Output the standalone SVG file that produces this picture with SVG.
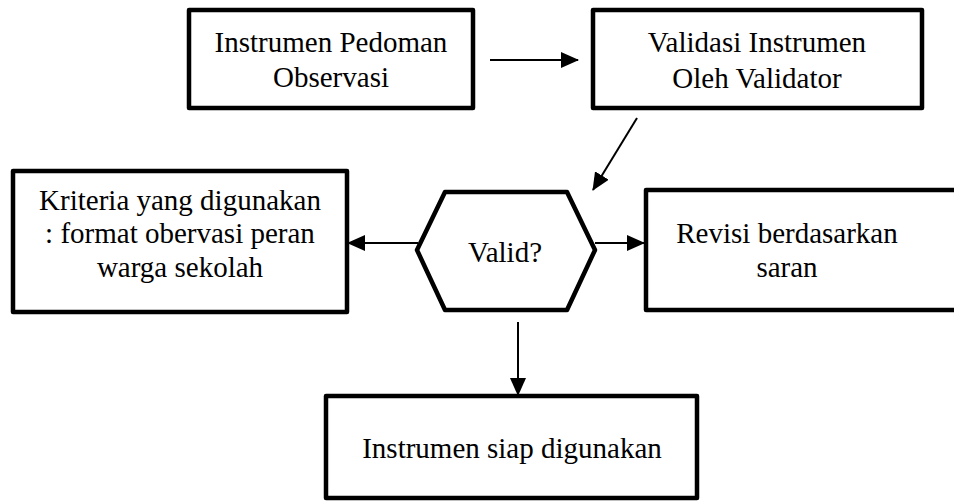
<svg xmlns="http://www.w3.org/2000/svg" width="954" height="501" viewBox="0 0 954 501">
<style>
.box{fill:#fff;stroke:#000;stroke-width:4.5;stroke-linejoin:round}
.t{font-family:'Liberation Serif','Times New Roman','DejaVu Serif',serif;font-size:29px;fill:#000;text-anchor:middle}
.c{stroke:#000;stroke-width:2;fill:none}
</style>
<defs>
<marker id="ah" markerUnits="userSpaceOnUse" markerWidth="18" markerHeight="16" refX="17" refY="8" orient="auto">
<path d="M0,0 L18,8 L0,16 Z" fill="#000"/>
</marker>
</defs>
<rect width="954" height="501" fill="#fff"/>
<g id="n1">
<rect class="box" x="189" y="10" width="284" height="98"/>
<text class="t" x="331" y="52" font-family="Liberation Serif">Instrumen Pedoman</text>
<text class="t" x="331" y="87" font-family="Liberation Serif">Observasi</text>
</g>
<g id="n2">
<rect class="box" x="593" y="10" width="329" height="98"/>
<text class="t" x="757" y="52">Validasi Instrumen</text>
<text class="t" x="757" y="88">Oleh Validator</text>
</g>
<g id="n3">
<rect class="box" x="13" y="171" width="334" height="141"/>
<text class="t" x="180" y="210">Kriteria yang digunakan</text>
<text class="t" x="180" y="243">: format obervasi peran</text>
<text class="t" x="180" y="277">warga sekolah</text>
</g>
<g id="n4">
<polygon class="box" points="445,192 567,192 595,250 567,310 445,310 417,250"/>
<text class="t" x="505" y="262">Valid?</text>
</g>
<g id="n5">
<rect class="box" x="646" y="190" width="320" height="120"/>
<text class="t" x="787" y="243">Revisi berdasarkan</text>
<text class="t" x="787" y="277">saran</text>
</g>
<g id="n6">
<rect class="box" x="326" y="396" width="371" height="102"/>
<text class="t" x="512" y="458">Instrumen siap digunakan</text>
</g>
<g id="connectors">
<line class="c" x1="490" y1="60" x2="578" y2="60" marker-end="url(#ah)"/>
<line class="c" x1="637" y1="118" x2="593" y2="190" marker-end="url(#ah)"/>
<line class="c" x1="418" y1="243" x2="348" y2="243" marker-end="url(#ah)"/>
<line class="c" x1="595" y1="243" x2="644" y2="243" marker-end="url(#ah)"/>
<line class="c" x1="518" y1="322" x2="518" y2="395" marker-end="url(#ah)"/>
</g>
</svg>
